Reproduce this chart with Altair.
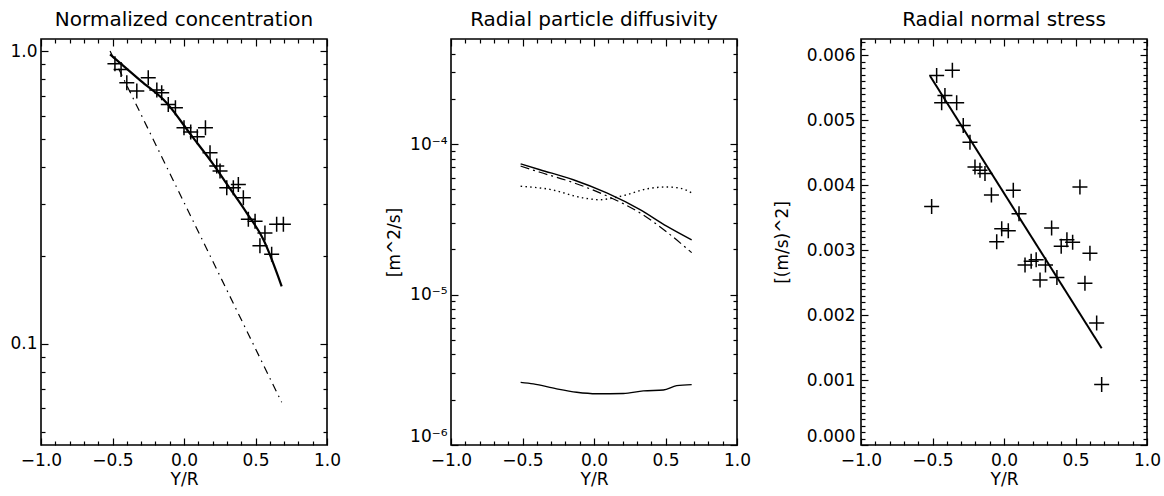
import altair as alt
import pandas as pd

FONT = "DejaVu Sans"
W, H = 286, 406

# ---------------- data ----------------
# Panel 1: normalized concentration
conc_x = [-0.483, -0.44, -0.40, -0.33, -0.25, -0.19, -0.156, -0.11, -0.06, 0.0,
          0.047, 0.093, 0.15, 0.182, 0.229, 0.252, 0.299, 0.345, 0.38, 0.415,
          0.45, 0.497, 0.531, 0.566, 0.613, 0.648, 0.695]
conc_v = [0.905, 0.865, 0.78, 0.73, 0.81, 0.736, 0.72, 0.657, 0.64, 0.547,
          0.529, 0.51, 0.547, 0.449, 0.405, 0.389, 0.341, 0.341, 0.35, 0.315,
          0.266, 0.262, 0.216, 0.239, 0.202, 0.256, 0.256]
conc_fit_x = [-0.517, -0.3, -0.121, 0.05, 0.205, 0.3, 0.438, 0.555, 0.683]
conc_fit_v = [0.974, 0.79, 0.665, 0.516, 0.41, 0.351, 0.28, 0.227, 0.157]
conc_dd_x = [-0.517, 0.083, 0.683]
conc_dd_v = [1.0, 0.251, 0.063]

# Panel 2: radial particle diffusivity
diff_x = [-0.513, -0.378, -0.145, 0.089, 0.322, 0.508, 0.683]
diff_solid = [7.4e-5, 6.76e-5, 5.8e-5, 4.74e-5, 3.67e-5, 2.85e-5, 2.31e-5]
diff_dashdot = [7.15e-5, 6.5e-5, 5.55e-5, 4.53e-5, 3.49e-5, 2.61e-5, 1.9e-5]
diff_dot_x = [-0.513, -0.308, -0.075, 0.042, 0.135, 0.229, 0.368, 0.508, 0.601, 0.694]
diff_dot = [5.25e-5, 5.0e-5, 4.39e-5, 4.27e-5, 4.39e-5, 4.61e-5, 5.04e-5, 5.19e-5, 5.1e-5, 4.69e-5]
diff_low_x = [-0.513, -0.424, -0.261, -0.121, 0.019, 0.205, 0.345, 0.485, 0.578, 0.683]
diff_low = [2.61e-6, 2.55e-6, 2.36e-6, 2.24e-6, 2.19e-6, 2.2e-6, 2.29e-6, 2.32e-6, 2.48e-6, 2.52e-6]

# Panel 3: radial normal stress
stress_x = [-0.506, -0.471, -0.436, -0.413, -0.361, -0.331, -0.285, -0.238, -0.203, -0.168,
            -0.133, -0.088, -0.051, -0.016, 0.03, 0.065, 0.105, 0.147, 0.19, 0.225,
            0.252, 0.29, 0.333, 0.37, 0.40, 0.44, 0.48, 0.531, 0.566, 0.601,
            0.648, 0.683]
stress_v = [0.00367, 0.00569, 0.00527, 0.00538, 0.00577, 0.00527, 0.00492, 0.00466, 0.00428, 0.00423,
            0.00418, 0.00385, 0.00313, 0.00333, 0.0033, 0.00392, 0.00356, 0.00277, 0.00283, 0.00285,
            0.00254, 0.00277, 0.00334, 0.00258, 0.00306, 0.00316, 0.00312, 0.00397, 0.00249, 0.00295,
            0.00188, 0.00093]
stress_fit_x = [-0.517, 0.683]
stress_fit_v = [0.00568, 0.00149]

# ---------------- tick values ----------------
x_major = [-1.0, -0.5, 0.0, 0.5, 1.0]
x_minor = [-0.9, -0.8, -0.7, -0.6, -0.4, -0.3, -0.2, -0.1, 0.1, 0.2, 0.3, 0.4,
           0.6, 0.7, 0.8, 0.9]
conc_major = [0.1, 1.0]
conc_minor = [0.05, 0.06, 0.07, 0.08, 0.09, 0.2, 0.3, 0.4, 0.5, 0.6, 0.7, 0.8, 0.9]
diff_major = [1e-6, 1e-5, 1e-4]
diff_minor = [2e-6, 3e-6, 4e-6, 5e-6, 6e-6, 7e-6, 8e-6, 9e-6,
              2e-5, 3e-5, 4e-5, 5e-5, 6e-5, 7e-5, 8e-5, 9e-5,
              2e-4, 3e-4, 4e-4]
stress_major = [0.0, 0.001, 0.002, 0.003, 0.004, 0.005, 0.006]
stress_minor = [round(0.0001 * i, 4) for i in range(0, 63) if i % 10]

CROSS = "M-1,0L1,0M0,-1L0,1"


def df(xs, vs):
    return pd.DataFrame({"x": xs, "v": vs})


def panel(title, layers_spec, carrier_df, yscale, y_label_axis, y_major, y_minor):
    xscale = alt.Scale(domain=[-1.0, 1.0], nice=False, zero=False)
    layers = []
    for i, mark in enumerate(layers_spec):
        if i == 0:
            xa = alt.Axis(orient="bottom", values=x_major, format=".1f", ticks=False,
                          domain=False, grid=False, labelPadding=7, labelFlush=False,
                          labelOverlap=False, title="Y/R", titlePadding=3)
            ya = y_label_axis
        else:
            xa = None
            ya = None
        layers.append(
            mark.encode(
                x=alt.X("x:Q", scale=xscale, axis=xa),
                y=alt.Y("v:Q", scale=yscale, axis=ya),
            )
        )
    # inward tick axes on all four sides (major and minor)
    for xo, yo, xv, yv, size in [
        ("top", "right", x_major, y_major, 7),
        ("top", "right", x_minor, y_minor, 4),
        ("bottom", "left", x_major, y_major, 7),
        ("bottom", "left", x_minor, y_minor, 4),
    ]:
        xa = alt.Axis(orient=xo, offset=-H, values=xv, labels=False, ticks=True,
                      tickSize=size, tickColor="black", tickWidth=1.2,
                      domain=False, grid=False, title=None)
        ya = alt.Axis(orient=yo, offset=-W, values=yv, labels=False, ticks=True,
                      tickSize=size, tickColor="black", tickWidth=1.2,
                      domain=False, grid=False, title=None)
        layers.append(
            alt.Chart(carrier_df).mark_point(opacity=0).encode(
                x=alt.X("x:Q", scale=xscale, axis=xa),
                y=alt.Y("v:Q", scale=yscale, axis=ya),
            )
        )
    return alt.layer(*layers).resolve_axis(x="independent", y="independent").properties(
        width=W, height=H,
        title=alt.TitleParams(text=title, font=FONT, fontSize=20, fontWeight="normal",
                              color="black", offset=8, anchor="middle"),
    )


def cross_mark(data):
    return alt.Chart(data).mark_point(shape=CROSS, size=225, filled=False,
                                      stroke="black", strokeWidth=1.5, opacity=1)


# ---- panel 1 ----
d_conc = df(conc_x, conc_v)
d_conc_fit = df(conc_fit_x, conc_fit_v)
d_conc_dd = df(conc_dd_x, conc_dd_v)
y1 = alt.Scale(type="log", domain=[0.045, 1.1], nice=False)
y1_axis = alt.Axis(orient="left", values=conc_major, format=".1f", ticks=False, domain=False,
                   grid=False, labelPadding=4, labelFlush=False, labelOverlap=False, title=None)
p1 = panel(
    "Normalized concentration",
    [
        cross_mark(d_conc),
        alt.Chart(d_conc_fit).mark_line(color="black", strokeWidth=2.2, interpolate="monotone"),
        alt.Chart(d_conc_dd).mark_line(color="black", strokeWidth=1.2, strokeDash=[8, 5, 1.5, 5]),
    ],
    d_conc_fit, y1, y1_axis, conc_major, conc_minor,
)

# ---- panel 2 ----
d_solid = df(diff_x, diff_solid)
d_dd = df(diff_x, diff_dashdot)
d_dot = df(diff_dot_x, diff_dot)
d_low = df(diff_low_x, diff_low)
y2 = alt.Scale(type="log", domain=[1e-6, 5e-4], nice=False)
y2_axis = alt.Axis(
    orient="left", values=diff_major, ticks=False, domain=False, grid=False,
    labelPadding=4, labelFlush=True, labelOverlap=False,
    labelExpr="round(log(datum.value)/LN10) == -4 ? '10⁻⁴' : (round(log(datum.value)/LN10) == -5 ? '10⁻⁵' : '10⁻⁶')",
    title="[m^2/s]", titlePadding=6,
)
p2 = panel(
    "Radial particle diffusivity",
    [
        alt.Chart(d_solid).mark_line(color="black", strokeWidth=1.4, interpolate="monotone"),
        alt.Chart(d_dd).mark_line(color="black", strokeWidth=1.2, interpolate="monotone", strokeDash=[9, 4, 2, 4]),
        alt.Chart(d_dot).mark_line(color="black", strokeWidth=1.4, interpolate="monotone", strokeDash=[1.5, 3.3]),
        alt.Chart(d_low).mark_line(color="black", strokeWidth=1.4, interpolate="monotone"),
    ],
    d_solid, y2, y2_axis, diff_major, diff_minor,
)

# ---- panel 3 ----
d_stress = df(stress_x, stress_v)
d_stress_fit = df(stress_fit_x, stress_fit_v)
y3 = alt.Scale(domain=[0.0, 0.00625], nice=False, zero=False)
y3_axis = alt.Axis(orient="left", values=stress_major, format=".3f", ticks=False, domain=False,
                   grid=False, labelPadding=6, labelFlush=True, labelOverlap=False,
                   title="[(m/s)^2]", titlePadding=15)
p3 = panel(
    "Radial normal stress",
    [
        cross_mark(d_stress),
        alt.Chart(d_stress_fit).mark_line(color="black", strokeWidth=2.0),
    ],
    d_stress_fit, y3, y3_axis, stress_major, stress_minor,
)

chart = alt.hconcat(p1, p2, p3, spacing=124, bounds="flush").configure_view(
    stroke="black", strokeWidth=1.6
).configure_axis(
    labelFont=FONT, labelFontSize=17, labelColor="black",
    titleFont=FONT, titleFontSize=17, titleFontWeight="normal", titleColor="black",
).properties(
    padding={"left": 9, "top": 9, "right": 0, "bottom": 0},
    background="white",
)

chart.save("out.html", embed_options={"renderer": "svg", "actions": False})
